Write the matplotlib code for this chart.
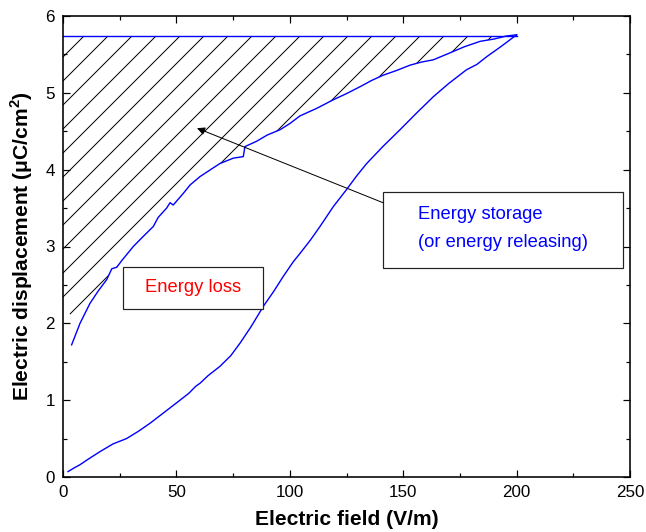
import numpy as np
import matplotlib
matplotlib.use("Agg")
import matplotlib.pyplot as plt
from matplotlib.ticker import MultipleLocator

# ===========================
# DATA  (E in V/m, D in uC/cm^2)
# ===========================
# charging branch
E_charge = [2.2, 5.0, 7.5, 11.0, 16.3, 22.0, 28.0, 33.0, 38.4, 45.0, 51.6, 55.5,
            58.5, 60.4, 64.0, 69.2, 74.0, 78.0, 83.0, 88.3, 93.0, 97.1, 101.5,
            104.5, 109.0, 113.3, 119.2, 125.0, 129.5, 133.9, 141.0, 148.6,
            156.0, 163.3, 170.0, 177.9, 182.5, 186.8, 193.0, 200.0]
D_charge = [0.07, 0.12, 0.16, 0.23, 0.33, 0.43, 0.50, 0.59, 0.70, 0.85, 1.00, 1.09,
            1.18, 1.22, 1.32, 1.44, 1.58, 1.74, 1.96, 2.22, 2.42, 2.61, 2.80,
            2.91, 3.08, 3.26, 3.52, 3.74, 3.92, 4.08, 4.30, 4.52,
            4.74, 4.95, 5.12, 5.30, 5.37, 5.47, 5.60, 5.755]

# discharging branch
E_discharge = [200.0, 195.6, 190.0, 183.9, 177.0, 170.6, 163.3, 158.0, 153.0,
               147.0, 141.2, 136.0, 131.0, 125.0, 119.2, 112.0, 104.5, 100.0,
               95.7, 90.0, 85.4, 80.2, 79.5, 75.1, 69.2, 64.0, 60.4, 56.0,
               53.0, 48.6, 47.2, 45.7, 42.0, 39.8, 35.0, 31.0, 26.0, 23.7,
               21.5, 19.3, 15.5, 11.9, 7.5, 3.8]
D_discharge = [5.755, 5.74, 5.70, 5.67, 5.60, 5.52, 5.43, 5.40, 5.36,
               5.29, 5.23, 5.16, 5.08, 4.99, 4.91, 4.80, 4.70, 4.60,
               4.52, 4.45, 4.37, 4.30, 4.17, 4.15, 4.08, 3.98, 3.91, 3.80,
               3.69, 3.54, 3.57, 3.50, 3.38, 3.26, 3.12, 3.00, 2.82, 2.73,
               2.71, 2.57, 2.42, 2.26, 2.00, 1.72]

D_MAX = 5.74          # top of the loop
E_MAX = 200.0
D_HATCH_LEFT = 2.2    # lower corner of hatched area on the D axis
N_HATCH_SKIP = 1      # last discharge points left outside the hatched area

# ===========================
# STYLE
# ===========================
plt.rcParams['font.family'] = ['Liberation Sans', 'DejaVu Sans']
plt.rcParams['mathtext.fontset'] = 'custom'
plt.rcParams['mathtext.rm'] = 'Liberation Sans'
plt.rcParams['mathtext.bf'] = 'Liberation Sans:bold'
plt.rcParams['hatch.linewidth'] = 0.5

BLUE = '#0000ff'

fig = plt.figure(figsize=(646 / 144, 532 / 144), dpi=144)
ax = fig.add_axes([63 / 646, 55 / 532, 567 / 646, 461 / 532])

# hatched area between the top line and the discharge branch
edge_E = E_discharge[:len(E_discharge) - N_HATCH_SKIP]
edge_D = D_discharge[:len(D_discharge) - N_HATCH_SKIP]
poly_E = np.concatenate([[0.0, E_MAX], edge_E, [0.0]])
poly_D = np.concatenate([[D_MAX, D_MAX], edge_D, [D_HATCH_LEFT]])
ax.fill(poly_E, poly_D, facecolor='none', edgecolor='black', hatch='//', lw=0)

ax.plot([0, E_MAX], [D_MAX, D_MAX], color=BLUE, lw=0.7)
ax.plot(E_charge, D_charge, color=BLUE, lw=0.7)
ax.plot(E_discharge, D_discharge, color=BLUE, lw=0.7)

# annotation boxes
ax.add_patch(plt.Rectangle((26.5, 2.19), 61.7, 0.54, facecolor='white',
                           edgecolor='#222222', lw=0.6, zorder=3))
ax.text(57.3, 2.46, "Energy loss", color='red', fontsize=9.2,
        ha='center', va='center', zorder=4)

ax.add_patch(plt.Rectangle((141.1, 2.72), 105.8, 0.99, facecolor='white',
                           edgecolor='#222222', lw=0.6, zorder=3))
ax.text(156.5, 3.41, "Energy storage", color=BLUE, fontsize=9.2,
        ha='left', va='center', zorder=4)
ax.text(156.5, 3.05, "(or energy releasing)", color=BLUE, fontsize=9.2,
        ha='left', va='center', zorder=4)

ax.annotate("", xy=(59.1, 4.54), xytext=(141.1, 3.57),
            arrowprops=dict(arrowstyle='-|>', color='black', lw=0.5,
                            mutation_scale=8, shrinkA=0, shrinkB=0), zorder=4)

# axes
ax.set_xlim(0, 250)
ax.set_ylim(0, 6)
ax.xaxis.set_major_locator(MultipleLocator(50))
ax.xaxis.set_minor_locator(MultipleLocator(25))
ax.yaxis.set_major_locator(MultipleLocator(1))
ax.yaxis.set_minor_locator(MultipleLocator(0.5))
ax.tick_params(which='both', direction='in', top=True, right=True,
               width=0.6, labelsize=8.5)
ax.tick_params(which='major', length=3.5, pad=4)
ax.tick_params(which='minor', length=2)
for s in ax.spines.values():
    s.set_linewidth(0.8)

ax.set_xlabel("Electric field (V/m)", fontsize=10.5, fontweight='bold', labelpad=5)
ax.set_ylabel(r"Electric displacement (μC/cm$^{\mathbf{2}}$)", fontsize=10.5,
              fontweight='bold', labelpad=5)

fig.savefig("out.png", dpi=144)
